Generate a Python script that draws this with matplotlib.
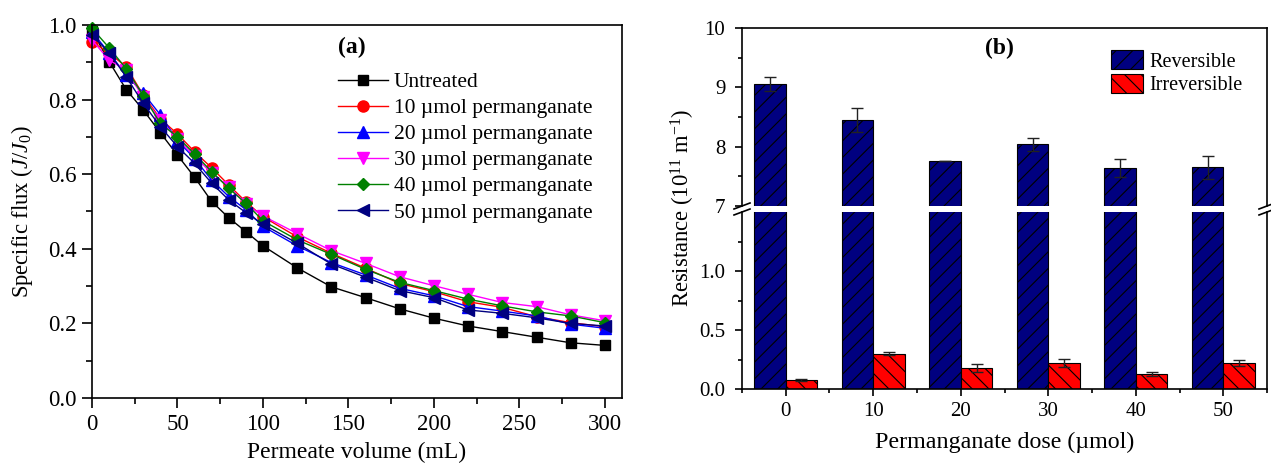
import matplotlib
matplotlib.use("Agg")
import matplotlib.pyplot as plt
from matplotlib.ticker import MultipleLocator, FixedLocator, FormatStrFormatter
from matplotlib.patches import Patch

plt.rcParams['font.family'] = ['Liberation Serif', 'DejaVu Serif']
plt.rcParams['mathtext.fontset'] = 'custom'
plt.rcParams['mathtext.rm'] = 'Liberation Serif'
plt.rcParams['mathtext.it'] = 'Liberation Serif:italic'
plt.rcParams['mathtext.bf'] = 'Liberation Serif:bold'
plt.rcParams['hatch.linewidth'] = 0.8
plt.rcParams['axes.linewidth'] = 1.2

# ---- (a) specific flux vs permeate volume ----
volume = [0, 10, 20, 30, 40, 50, 60, 70, 80, 90, 100,
          120, 140, 160, 180, 200, 220, 240, 260, 280, 300]
flux_untreated = [0.985, 0.902, 0.827, 0.772, 0.711, 0.651, 0.592, 0.527, 0.483, 0.446, 0.408,
                  0.349, 0.298, 0.269, 0.239, 0.214, 0.193, 0.178, 0.163, 0.148, 0.141]
flux_10 = [0.955, 0.925, 0.888, 0.812, 0.748, 0.708, 0.660, 0.617, 0.571, 0.526, 0.486,
           0.432, 0.388, 0.348, 0.307, 0.285, 0.258, 0.243, 0.218, 0.202, 0.191]
flux_20 = [0.982, 0.925, 0.866, 0.817, 0.759, 0.690, 0.642, 0.584, 0.540, 0.505, 0.460,
           0.408, 0.363, 0.330, 0.294, 0.274, 0.245, 0.233, 0.220, 0.198, 0.187]
flux_30 = [0.960, 0.906, 0.879, 0.806, 0.745, 0.694, 0.649, 0.602, 0.567, 0.520, 0.488,
           0.441, 0.395, 0.361, 0.325, 0.301, 0.278, 0.256, 0.245, 0.223, 0.207]
flux_40 = [0.991, 0.939, 0.883, 0.810, 0.736, 0.700, 0.654, 0.607, 0.562, 0.522, 0.475,
           0.424, 0.385, 0.345, 0.310, 0.288, 0.265, 0.247, 0.231, 0.220, 0.202]
flux_50 = [0.973, 0.926, 0.861, 0.790, 0.727, 0.674, 0.629, 0.576, 0.531, 0.497, 0.466,
           0.415, 0.359, 0.324, 0.288, 0.269, 0.236, 0.227, 0.215, 0.200, 0.193]
series_labels = ['Untreated', '10 µmol permanganate', '20 µmol permanganate',
                 '30 µmol permanganate', '40 µmol permanganate', '50 µmol permanganate']

# ---- (b) fouling resistance vs dose ----
doses = [0, 10, 20, 30, 40, 50]
reversible = [9.05, 8.45, 7.75, 8.04, 7.64, 7.65]
reversible_err = [0.12, 0.21, 0.0, 0.11, 0.15, 0.20]
irreversible = [0.076, 0.30, 0.18, 0.22, 0.13, 0.22]
irreversible_err = [0.006, 0.011, 0.034, 0.037, 0.017, 0.023]

W, H = 1271, 466
fig = plt.figure(figsize=(W / 100, H / 100), dpi=100)

def px_axes(x0, y_top, x1, y_bot):
    return fig.add_axes([x0 / W, 1 - y_bot / H, (x1 - x0) / W, (y_bot - y_top) / H])

# Panel (a)
ax = px_axes(92, 25, 622, 398)
colors = ['black', '#ff0000', '#0000ff', '#ff00ff', '#008000', '#000080']
markers = ['s', 'o', '^', 'v', 'D', '<']
sizes = [7.5, 8, 8, 8, 6.5, 8]
for ys, c, m, ms, lab in zip([flux_untreated, flux_10, flux_20, flux_30, flux_40, flux_50],
                             colors, markers, sizes, series_labels):
    ax.plot(volume, ys, color=c, marker=m, markersize=ms, lw=1.0,
            markeredgecolor=c, label=lab, clip_on=False)
ax.set_xlim(0, 310)
ax.set_ylim(0, 1.0)
ax.xaxis.set_major_locator(FixedLocator([0, 50, 100, 150, 200, 250, 300]))
ax.xaxis.set_minor_locator(FixedLocator([25, 75, 125, 175, 225, 275]))
ax.yaxis.set_major_locator(MultipleLocator(0.2))
ax.yaxis.set_minor_locator(MultipleLocator(0.1))
ax.yaxis.set_major_formatter(FormatStrFormatter('%.1f'))
ax.tick_params(which='major', length=7, width=1.2, direction='out',
               labelsize=16.5, pad=4.3)
ax.tick_params(which='minor', length=4.3, width=1.2, direction='out')
ax.tick_params(top=False, right=False, which='both')
ax.set_xlabel('Permeate volume (mL)', fontsize=17, labelpad=5.5)
ax.set_ylabel(r'Specific flux ($J/J_0$)', fontsize=16.3, labelpad=9)
fig.text(352 / W, 1 - 47 / H, '(a)', fontsize=17, fontweight='bold',
         ha='center', va='center')
ax.legend(loc='upper left', bbox_to_anchor=(338 / W, 1 - 72 / H),
          bbox_transform=fig.transFigure, frameon=False, fontsize=15.5,
          handlelength=2.3, handletextpad=0.3, labelspacing=0.28,
          borderpad=0, borderaxespad=0)

# Panel (b) with broken y axis
ax_up = px_axes(742, 28, 1267, 206)
ax_lo = px_axes(742, 212, 1267, 389)
bw = 3.6
x_rev = [d - bw / 2 for d in doses]
x_irr = [d + bw / 2 for d in doses]
for a in (ax_up, ax_lo):
    a.bar(x_rev, reversible, width=bw, color='#000080', edgecolor='black',
          hatch='//', linewidth=0.8)
    a.bar(x_irr, irreversible, width=bw, color='#ff0000', edgecolor='black',
          hatch='\\\\', linewidth=0.8)
    a.set_xlim(-5, 55)
ax_up.errorbar(x_rev, reversible, yerr=reversible_err, fmt='none', ecolor='#222222',
               elinewidth=1, capsize=4, capthick=1)
ax_lo.errorbar(x_irr, irreversible, yerr=irreversible_err, fmt='none', ecolor='#222222',
               elinewidth=1, capsize=4, capthick=1)

ax_up.set_ylim(7, 10)
ax_lo.set_ylim(0, 1.5)
ax_up.yaxis.set_major_locator(FixedLocator([7, 8, 9, 10]))
ax_up.yaxis.set_minor_locator(FixedLocator([7.5, 8.5, 9.5]))
ax_lo.yaxis.set_major_locator(FixedLocator([0.0, 0.5, 1.0]))
ax_lo.yaxis.set_minor_locator(FixedLocator([0.25, 0.75, 1.25]))
ax_lo.yaxis.set_major_formatter(FormatStrFormatter('%.1f'))
ax_lo.xaxis.set_major_locator(FixedLocator(doses))
ax_lo.xaxis.set_minor_locator(FixedLocator([-5, 5, 15, 25, 35, 45, 55]))
for a in (ax_up, ax_lo):
    a.tick_params(which='major', length=5, width=1.2, direction='out', labelsize=15)
    a.tick_params(which='minor', length=3, width=1.2, direction='out')
    a.tick_params(top=False, right=False, which='both')
    a.tick_params(axis='y', which='major', pad=7)
    a.tick_params(axis='x', which='major', pad=4.3)
ax_up.spines['bottom'].set_visible(False)
ax_up.tick_params(axis='x', which='both', bottom=False, labelbottom=False)
ax_lo.spines['top'].set_visible(False)
ax_lo.set_xlabel('Permanganate dose (µmol)', fontsize=17.3, labelpad=8)

# break marks on both vertical spines
dx, dy = 8 / 525, 3 / 178
for xs in (0, 1):
    ax_up.plot([xs - dx, xs + dx], [-dy, dy], color='black', lw=1.2,
               transform=ax_up.transAxes, clip_on=False)
    ax_lo.plot([xs - dx, xs + dx], [1 - dy, 1 + dy], color='black', lw=1.2,
               transform=ax_lo.transAxes, clip_on=False)

fig.text(683 / W, 1 - 208 / H, r'Resistance (10$^{11}$ m$^{-1}$)', fontsize=16.3,
         rotation=90, ha='center', va='center')
fig.text(999 / W, 1 - 48 / H, '(b)', fontsize=17, fontweight='bold',
         ha='center', va='center')
handles = [Patch(facecolor='#000080', edgecolor='black', hatch='//', linewidth=0.8),
           Patch(facecolor='#ff0000', edgecolor='black', hatch='\\\\', linewidth=0.8)]
ax_up.legend(handles, ['Reversible', 'Irreversible'], loc='upper left',
             bbox_to_anchor=(1111 / W, 1 - 50 / H), bbox_transform=fig.transFigure,
             frameon=False, fontsize=14.5, handlelength=1.6, handleheight=1.1,
             handletextpad=0.3, labelspacing=0.1, borderpad=0, borderaxespad=0)

fig.savefig('out.png', dpi=100)
